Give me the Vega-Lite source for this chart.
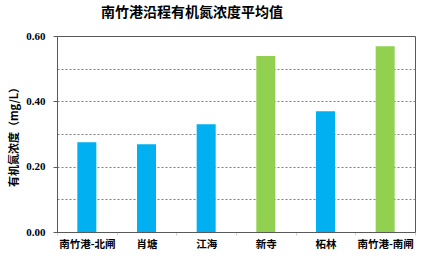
{
  "$schema": "https://vega.github.io/schema/vega-lite/v6.json",
  "autosize": "none",
  "width": 358,
  "height": 196,
  "padding": {"left": 57, "top": 36, "right": 9, "bottom": 27},
  "background": "white",
  "title": {
    "text": "南竹港沿程有机氮浓度平均值",
    "anchor": "middle",
    "dx": -44,
    "offset": 10,
    "font": "Noto Sans CJK SC",
    "fontSize": 14,
    "fontWeight": "bold",
    "color": "#000000"
  },
  "data": {
    "values": [
      {"site": "南竹港-北闸", "value": 0.275, "group": "a"},
      {"site": "肖塘", "value": 0.269, "group": "a"},
      {"site": "江海", "value": 0.330, "group": "a"},
      {"site": "新寺", "value": 0.539, "group": "b"},
      {"site": "柘林", "value": 0.370, "group": "a"},
      {"site": "南竹港-南闸", "value": 0.569, "group": "b"}
    ]
  },
  "mark": {"type": "bar", "width": 19},
  "encoding": {
    "x": {
      "field": "site",
      "type": "nominal",
      "sort": null,
      "scale": {"paddingInner": 0, "paddingOuter": 0},
      "axis": {
        "title": null,
        "labelAngle": 0,
        "labelFont": "Noto Sans CJK SC",
        "labelFontWeight": "bold",
        "labelFontSize": 10.5,
        "labelColor": "#000000",
        "labelPadding": 4,
        "domainColor": "#595959",
        "tickBand": "extent",
        "tickColor": "#d0d0d0",
        "tickSize": 3
      }
    },
    "y": {
      "field": "value",
      "type": "quantitative",
      "scale": {"domain": [0, 0.6], "nice": false},
      "axis": {
        "title": "有机氮浓度（mg/L）",
        "titleFont": "Noto Sans CJK SC",
        "titleFontSize": 11,
        "titleFontWeight": "bold",
        "titleColor": "#000000",
        "titlePadding": 6,
        "values": [0, 0.1, 0.2, 0.3, 0.4, 0.5, 0.6],
        "labelExpr": "round(datum.value*10)%2==1 ? '' : format(datum.value, '.2f')",
        "labelFont": "Liberation Serif",
        "labelFontWeight": "bold",
        "labelFontSize": 11,
        "labelColor": "#000000",
        "labelPadding": 8,
        "tickSize": 4,
        "tickColor": "#595959",
        "tickOpacity": {"condition": {"test": "round(datum.value*10)%2==1", "value": 0}, "value": 1},
        "domainColor": "#595959",
        "grid": true,
        "gridColor": "#808080",
        "gridDash": [2, 2],
        "gridOpacity": {"condition": {"test": "datum.value == 0 || datum.value >= 0.6", "value": 0}, "value": 1}
      }
    },
    "color": {
      "field": "group",
      "type": "nominal",
      "scale": {"domain": ["a", "b"], "range": ["#00B0F0", "#92D050"]},
      "legend": null
    }
  },
  "config": {
    "view": {"stroke": "#595959", "strokeWidth": 1}
  }
}
